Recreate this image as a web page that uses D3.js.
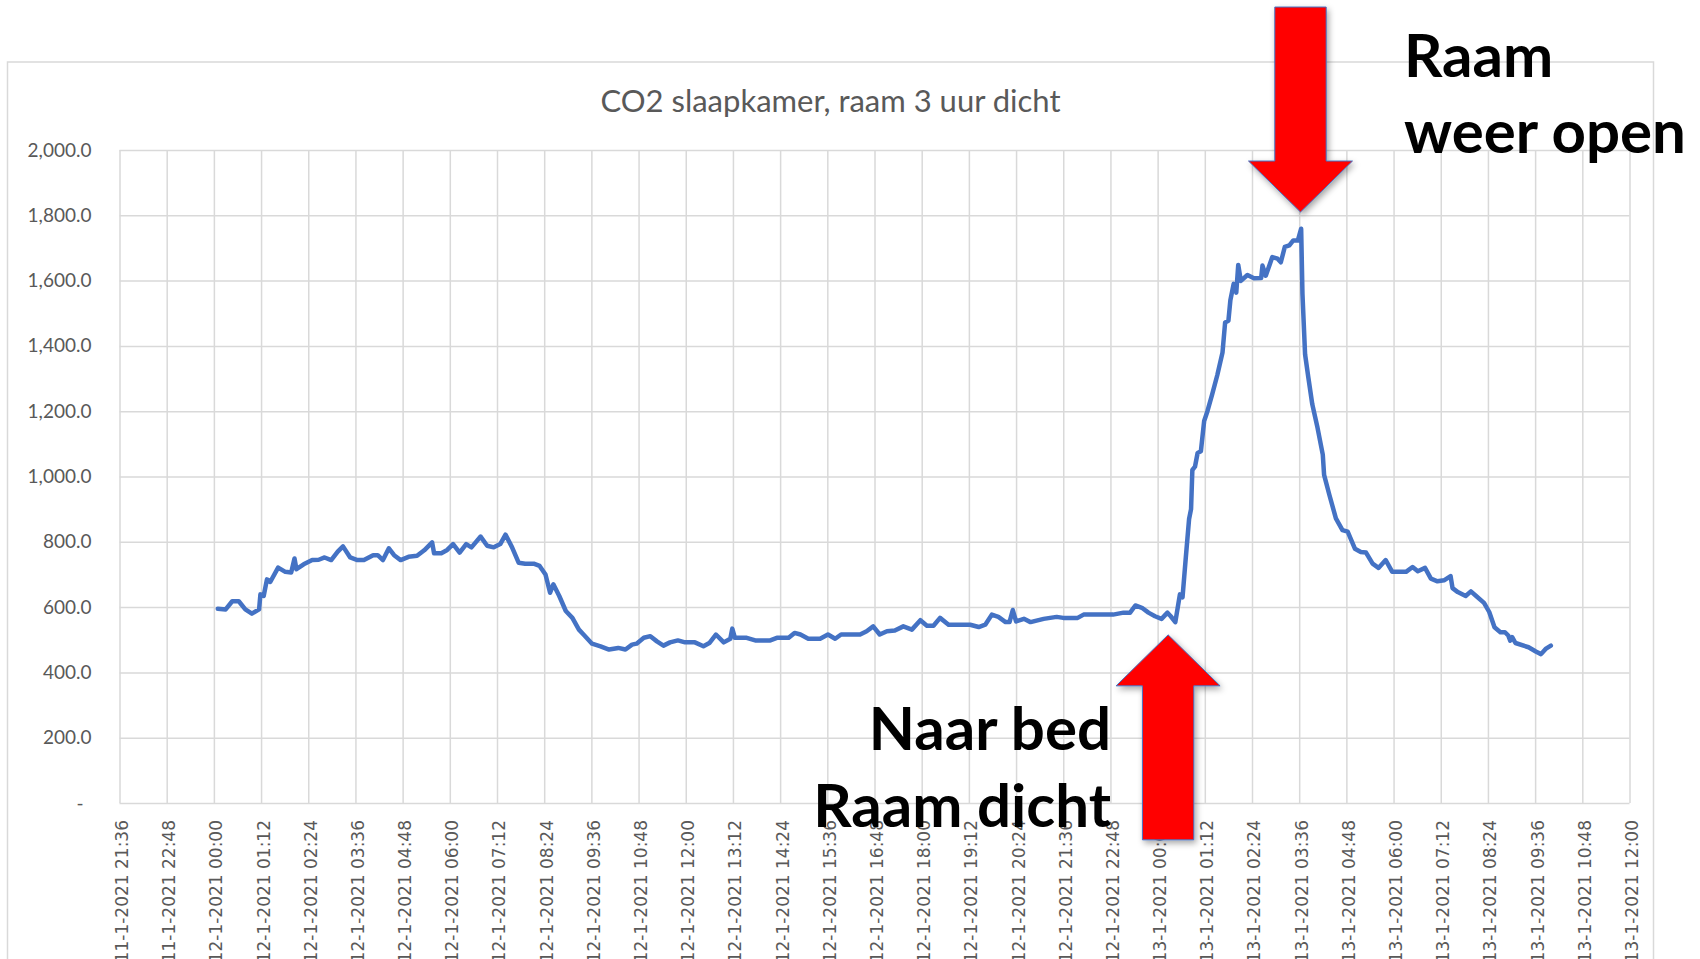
<!DOCTYPE html>
<html>
<head>
<meta charset="utf-8">
<script src="https://cdn.jsdelivr.net/npm/d3@7"></script>
<style>
body { margin: 0; background: #fff; }
</style>
</head>
<body>
<div id="my_dataviz"></div>
<script>

var title = "CO2 slaapkamer, raam 3 uur dicht";

var tickLabels = [
    "11-1-2021 21:36", "11-1-2021 22:48",
    "12-1-2021 00:00", "12-1-2021 01:12", "12-1-2021 02:24", "12-1-2021 03:36", "12-1-2021 04:48",
    "12-1-2021 06:00", "12-1-2021 07:12", "12-1-2021 08:24", "12-1-2021 09:36", "12-1-2021 10:48",
    "12-1-2021 12:00", "12-1-2021 13:12", "12-1-2021 14:24", "12-1-2021 15:36", "12-1-2021 16:48",
    "12-1-2021 18:00", "12-1-2021 19:12", "12-1-2021 20:24", "12-1-2021 21:36", "12-1-2021 22:48",
    "13-1-2021 00:00", "13-1-2021 01:12", "13-1-2021 02:24", "13-1-2021 03:36", "13-1-2021 04:48",
    "13-1-2021 06:00", "13-1-2021 07:12", "13-1-2021 08:24", "13-1-2021 09:36", "13-1-2021 10:48",
    "13-1-2021 12:00"
];

var yTicks = [0, 200, 400, 600, 800, 1000, 1200, 1400, 1600, 1800, 2000];

var times = [
    "12-1-2021 00:06", "12-1-2021 00:18", "12-1-2021 00:28", "12-1-2021 00:38", "12-1-2021 00:48",
    "12-1-2021 00:58", "12-1-2021 01:09", "12-1-2021 01:11", "12-1-2021 01:16", "12-1-2021 01:21",
    "12-1-2021 01:26", "12-1-2021 01:38", "12-1-2021 01:49", "12-1-2021 01:58", "12-1-2021 02:03",
    "12-1-2021 02:06", "12-1-2021 02:17", "12-1-2021 02:30", "12-1-2021 02:40", "12-1-2021 02:49",
    "12-1-2021 02:59", "12-1-2021 03:09", "12-1-2021 03:17", "12-1-2021 03:28", "12-1-2021 03:39",
    "12-1-2021 03:49", "12-1-2021 04:03", "12-1-2021 04:10", "12-1-2021 04:18", "12-1-2021 04:27",
    "12-1-2021 04:35", "12-1-2021 04:45", "12-1-2021 04:57", "12-1-2021 05:10", "12-1-2021 05:21",
    "12-1-2021 05:33", "12-1-2021 05:36", "12-1-2021 05:47", "12-1-2021 05:56", "12-1-2021 06:05",
    "12-1-2021 06:15", "12-1-2021 06:25", "12-1-2021 06:33", "12-1-2021 06:47", "12-1-2021 06:57",
    "12-1-2021 07:07", "12-1-2021 07:17", "12-1-2021 07:25", "12-1-2021 07:35", "12-1-2021 07:45",
    "12-1-2021 07:55", "12-1-2021 08:08", "12-1-2021 08:17", "12-1-2021 08:26", "12-1-2021 08:33",
    "12-1-2021 08:38", "12-1-2021 08:47", "12-1-2021 08:57", "12-1-2021 09:07", "12-1-2021 09:17",
    "12-1-2021 09:24", "12-1-2021 09:37", "12-1-2021 09:50", "12-1-2021 10:03", "12-1-2021 10:17",
    "12-1-2021 10:28", "12-1-2021 10:38", "12-1-2021 10:45", "12-1-2021 10:56", "12-1-2021 11:06",
    "12-1-2021 11:16", "12-1-2021 11:26", "12-1-2021 11:36", "12-1-2021 11:48", "12-1-2021 11:59",
    "12-1-2021 12:14", "12-1-2021 12:27", "12-1-2021 12:36", "12-1-2021 12:46", "12-1-2021 12:58",
    "12-1-2021 13:08", "12-1-2021 13:11", "12-1-2021 13:15", "12-1-2021 13:33", "12-1-2021 13:46",
    "12-1-2021 14:09", "12-1-2021 14:19", "12-1-2021 14:37", "12-1-2021 14:46", "12-1-2021 14:55",
    "12-1-2021 15:07", "12-1-2021 15:25", "12-1-2021 15:37", "12-1-2021 15:48", "12-1-2021 15:57",
    "12-1-2021 16:26", "12-1-2021 16:36", "12-1-2021 16:46", "12-1-2021 16:56", "12-1-2021 17:07",
    "12-1-2021 17:19", "12-1-2021 17:32", "12-1-2021 17:45", "12-1-2021 17:58", "12-1-2021 18:08",
    "12-1-2021 18:18", "12-1-2021 18:28", "12-1-2021 18:41", "12-1-2021 19:14", "12-1-2021 19:27",
    "12-1-2021 19:37", "12-1-2021 19:47", "12-1-2021 19:57", "12-1-2021 20:08", "12-1-2021 20:14",
    "12-1-2021 20:19", "12-1-2021 20:24", "12-1-2021 20:36", "12-1-2021 20:46", "12-1-2021 21:06",
    "12-1-2021 21:26", "12-1-2021 21:36", "12-1-2021 21:58", "12-1-2021 22:07", "12-1-2021 22:52",
    "12-1-2021 23:08", "12-1-2021 23:18", "12-1-2021 23:26", "12-1-2021 23:36", "12-1-2021 23:46",
    "12-1-2021 23:56", "13-1-2021 00:06", "13-1-2021 00:15", "13-1-2021 00:20", "13-1-2021 00:27",
    "13-1-2021 00:34", "13-1-2021 00:38", "13-1-2021 00:43", "13-1-2021 00:48", "13-1-2021 00:51",
    "13-1-2021 00:53", "13-1-2021 00:57", "13-1-2021 01:01", "13-1-2021 01:06", "13-1-2021 01:11",
    "13-1-2021 01:16", "13-1-2021 01:23", "13-1-2021 01:31", "13-1-2021 01:39", "13-1-2021 01:43",
    "13-1-2021 01:48", "13-1-2021 01:51", "13-1-2021 01:56", "13-1-2021 02:00", "13-1-2021 02:03",
    "13-1-2021 02:07", "13-1-2021 02:17", "13-1-2021 02:27", "13-1-2021 02:38", "13-1-2021 02:40",
    "13-1-2021 02:45", "13-1-2021 02:55", "13-1-2021 03:03", "13-1-2021 03:08", "13-1-2021 03:14",
    "13-1-2021 03:21", "13-1-2021 03:27", "13-1-2021 03:34", "13-1-2021 03:39", "13-1-2021 03:41",
    "13-1-2021 03:45", "13-1-2021 03:50", "13-1-2021 03:56", "13-1-2021 04:04", "13-1-2021 04:12",
    "13-1-2021 04:14", "13-1-2021 04:22", "13-1-2021 04:32", "13-1-2021 04:42", "13-1-2021 04:50",
    "13-1-2021 05:01", "13-1-2021 05:10", "13-1-2021 05:18", "13-1-2021 05:28", "13-1-2021 05:37",
    "13-1-2021 05:48", "13-1-2021 05:58", "13-1-2021 06:19", "13-1-2021 06:29", "13-1-2021 06:37",
    "13-1-2021 06:48", "13-1-2021 06:57", "13-1-2021 07:07", "13-1-2021 07:17", "13-1-2021 07:27",
    "13-1-2021 07:30", "13-1-2021 07:38", "13-1-2021 07:50", "13-1-2021 07:58", "13-1-2021 08:06",
    "13-1-2021 08:18", "13-1-2021 08:26", "13-1-2021 08:34", "13-1-2021 08:43", "13-1-2021 08:50",
    "13-1-2021 08:55", "13-1-2021 08:58", "13-1-2021 09:01", "13-1-2021 09:06", "13-1-2021 09:26",
    "13-1-2021 09:37", "13-1-2021 09:45", "13-1-2021 09:52", "13-1-2021 10:00"
];

// CO2 in ppm
var co2 = [
    595, 593, 618, 618, 593,
    580, 593, 639, 634, 685,
    677, 721, 708, 706, 749,
    716, 731, 744, 745, 752,
    744, 770, 786, 752, 744,
    744, 759, 759, 744, 780,
    759, 744, 754, 757, 774,
    798, 765, 765, 775, 793,
    767, 793, 783, 816, 788,
    783, 793, 822, 783, 736,
    733, 733, 726, 700, 644,
    670, 634, 588, 567, 531,
    516, 488, 480, 470, 475,
    470, 485, 488, 506, 511,
    495, 482, 492, 498, 492,
    492, 480, 490, 516, 492,
    503, 534, 506, 506, 498,
    498, 506, 506, 521, 516,
    503, 503, 516, 503, 516,
    516, 526, 541, 516, 526,
    528, 541, 531, 560, 543,
    543, 567, 546, 546, 539,
    546, 577, 570, 554, 554,
    591, 556, 564, 554, 564,
    570, 567, 567, 577, 577,
    583, 583, 605, 598, 583,
    572, 564, 583, 572, 554,
    639, 630, 752, 870, 900,
    1020, 1030, 1072, 1077, 1170,
    1200, 1250, 1310, 1380, 1472,
    1477, 1540, 1590, 1563, 1648,
    1599, 1617, 1607, 1608, 1646,
    1615, 1672, 1667, 1656, 1703,
    1708, 1723, 1723, 1759, 1559,
    1374, 1303, 1221, 1149, 1067,
    1005, 944, 872, 836, 831,
    779, 769, 767, 733, 720,
    744, 708, 708, 723, 710,
    720, 687, 679, 682, 695,
    658, 646, 634, 648, 634,
    613, 585, 538, 523, 523,
    513, 497, 508, 490, 477,
    464, 456, 472, 482
];

var parseTime = d3.timeParse("%d-%m-%Y %H:%M");

var data = [];
for (var i = 0; i < times.length; i++) {
    data.push({"x": parseTime(times[i]), "y": co2[i]});
}

var W = 1700, H = 959;
var margin = {top: 150, left: 119.5},
    width = 1510,
    height = 653;

var svg = d3.select("#my_dataviz")
    .append("svg")
    .attr("width", W)
    .attr("height", H)
    .style("display", "block");

var defs = svg.append("defs");
var shadow = defs.append("filter")
    .attr("id", "shadow")
    .attr("x", "-30%").attr("y", "-30%")
    .attr("width", "160%").attr("height", "160%");
shadow.append("feDropShadow")
    .attr("dx", 2).attr("dy", 3)
    .attr("stdDeviation", 3)
    .attr("flood-color", "#000")
    .attr("flood-opacity", 0.35);

// chart border
svg.append("rect")
    .attr("x", 7.5)
    .attr("y", 62)
    .attr("width", 1646)
    .attr("height", 920)
    .attr("fill", "#fff")
    .attr("stroke", "#d9d9d9")
    .attr("stroke-width", 1.5);

svg.append("text")
    .attr("x", 830.5)
    .attr("y", 112)
    .attr("text-anchor", "middle")
    .style("font-family", "Lato, 'Open Sans', sans-serif")
    .style("font-size", "31px")
    .style("fill", "#595959")
    .text(title);

var g = svg.append("g")
    .attr("transform", "translate(" + margin.left + "," + margin.top + ")");

var x = d3.scaleTime()
    .domain([parseTime(tickLabels[0]), parseTime(tickLabels[tickLabels.length - 1])])
    .range([0, width]);

var y = d3.scaleLinear()
    .domain([0, 2000])
    .range([height, 0]);

// X axis with vertical gridlines
var xAxis = g.append("g")
    .attr("transform", "translate(0," + height + ")")
    .call(d3.axisBottom(x)
        .tickValues(tickLabels.map(parseTime))
        .tickSize(-height)
        .tickFormat(function(d, i) { return tickLabels[i]; }));
xAxis.select(".domain").remove();
xAxis.selectAll("line")
    .attr("stroke", "#d9d9d9")
    .attr("stroke-width", 1.5);
xAxis.selectAll("text")
    .attr("transform", "rotate(-90)")
    .attr("x", -17)
    .attr("y", 2)
    .attr("dy", "0.35em")
    .style("text-anchor", "end")
    .style("font-family", "'DejaVu Sans', sans-serif")
    .style("font-size", "17px")
    .style("fill", "#595959");

// Y axis with horizontal gridlines
var yAxis = g.append("g")
    .call(d3.axisLeft(y)
        .tickValues(yTicks)
        .tickSize(-width)
        .tickPadding(28)
        .tickFormat(function(d) { return d === 0 ? "-" : d3.format(",.1f")(d); }));
yAxis.select(".domain").remove();
yAxis.selectAll("line")
    .attr("stroke", "#d9d9d9")
    .attr("stroke-width", 1.5);
yAxis.selectAll("text")
    .style("font-family", "Lato, 'Open Sans', sans-serif")
    .style("font-size", "19px")
    .style("fill", "#595959")
    .filter(function(d) { return d === 0; })
    .attr("x", -36);

// the line
g.append("path")
    .datum(data)
    .attr("fill", "none")
    .attr("stroke", "#4472c4")
    .attr("stroke-width", 4.5)
    .attr("stroke-linejoin", "round")
    .attr("stroke-linecap", "round")
    .attr("d", d3.line()
        .x(function(d) { return x(d.x); })
        .y(function(d) { return y(d.y); }));

// annotations
function arrow(tipX, tipY, dir) {
    // dir = 1 points down, -1 points up
    var headLen = 51, headHalf = 52, shaftHalf = 25.7, total = 205;
    var pts = [
        [tipX, tipY],
        [tipX + headHalf, tipY - dir * headLen],
        [tipX + shaftHalf, tipY - dir * headLen],
        [tipX + shaftHalf, tipY - dir * total],
        [tipX - shaftHalf, tipY - dir * total],
        [tipX - shaftHalf, tipY - dir * headLen],
        [tipX - headHalf, tipY - dir * headLen]
    ];
    svg.append("polygon")
        .attr("points", pts.map(function(p) { return p.join(","); }).join(" "))
        .attr("fill", "#ff0000")
        .attr("stroke", "#4472c4")
        .attr("stroke-width", 1)
        .attr("filter", "url(#shadow)");
}

var bold = function(sel) {
    return sel.style("font-family", "Lato, 'Open Sans', sans-serif")
        .style("font-weight", "bold")
        .style("font-size", "60px")
        .style("fill", "#000");
};

bold(svg.append("text").attr("x", 1404).attr("y", 77).text("Raam"));
bold(svg.append("text").attr("x", 1404).attr("y", 153).text("weer open"));
bold(svg.append("text").attr("x", 1111).attr("y", 750).attr("text-anchor", "end").text("Naar bed"));
bold(svg.append("text").attr("x", 1111).attr("y", 827).attr("text-anchor", "end").text("Raam dicht"));

// down arrow at the peak, up arrow where the window was closed
arrow(margin.left + x(parseTime("13-1-2021 03:38")), margin.top + y(1810), 1);
arrow(margin.left + x(parseTime("13-1-2021 00:16")), margin.top + y(515), -1);

</script>
</body>
</html>
